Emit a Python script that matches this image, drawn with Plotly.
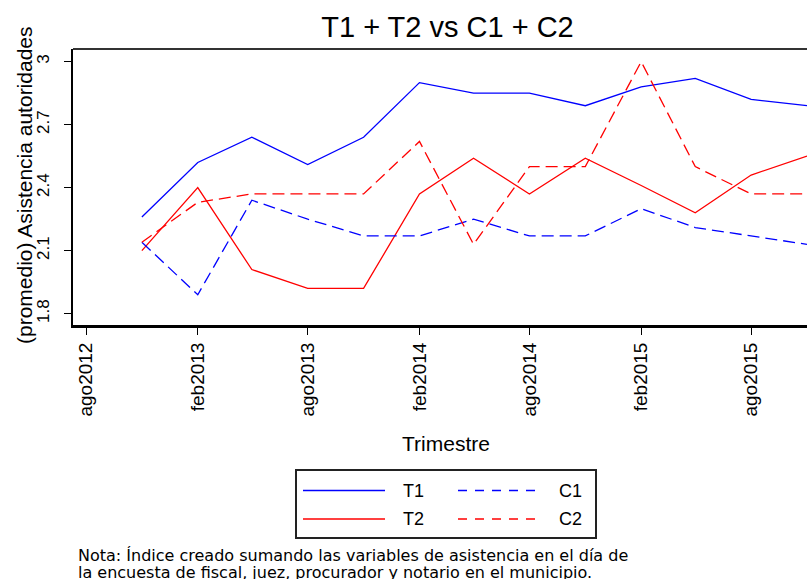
import plotly.graph_objects as go

# quarterly observations (first month of each quarter)
quarters = [
    "2012-11-01", "2013-02-01", "2013-05-01", "2013-08-01", "2013-11-01",
    "2014-02-01", "2014-05-01", "2014-08-01", "2014-11-01", "2015-02-01",
    "2015-05-01", "2015-08-01", "2015-11-01",
]
t1 = [2.26, 2.52, 2.64, 2.51, 2.64, 2.90, 2.85, 2.85, 2.79, 2.88, 2.92, 2.82, 2.79]
t2 = [2.10, 2.40, 2.01, 1.92, 1.92, 2.37, 2.54, 2.37, 2.54, 2.41, 2.28, 2.46, 2.55]
c1 = [2.14, 1.89, 2.34, 2.25, 2.17, 2.17, 2.25, 2.17, 2.17, 2.30, 2.21, 2.17, 2.13]
c2 = [2.14, 2.33, 2.37, 2.37, 2.37, 2.62, 2.13, 2.50, 2.50, 3.00, 2.50, 2.37, 2.37]

tick_dates = ["2012-08-01", "2013-02-01", "2013-08-01", "2014-02-01",
              "2014-08-01", "2015-02-01", "2015-08-01"]
tick_text = ["ago2012", "feb2013", "ago2013", "feb2014", "ago2014", "feb2015", "ago2015"]
y_ticks = [1.8, 2.1, 2.4, 2.7, 3.0]
y_text = ["1.8", "2.1", "2.4", "2.7", "3"]

BLUE = "#0000ff"
RED = "#ff0000"
FONT = "Liberation Sans, Arial, sans-serif"

# plot area in pixels; the graph runs off the right edge like the original
W, H = 807, 579
L, R, T, B = 73, 807, 49, 325


def px(x):
    return (x - L) / (R - L)


def py(y):
    return (B - y) / (B - T)


series = [
    ("T1", t1, BLUE, "solid"),
    ("T2", t2, RED, "solid"),
    ("C1", c1, BLUE, "12px,6px"),
    ("C2", c2, RED, "12px,6px"),
]

fig = go.Figure()
for name, vals, color, dash in series:
    fig.add_trace(go.Scatter(
        x=quarters, y=vals, mode="lines", name=name,
        line=dict(color=color, width=1.3, dash=dash),
    ))

fig.update_layout(
    width=W, height=H,
    margin=dict(l=L, r=W - R, t=T, b=H - B),
    paper_bgcolor="white", plot_bgcolor="white",
    showlegend=False,
    font=dict(family=FONT, color="black"),
    title=dict(
        text="T1 + T2 vs C1 + C2",
        x=447.5 / W, xanchor="center",
        y=1 - 27 / H, yanchor="middle",
        font=dict(size=29, family=FONT, color="black"),
    ),
    xaxis=dict(
        type="date",
        range=["2012-07-10 14:00", "2015-11-01"],
        tickvals=tick_dates, ticktext=tick_text,
        tickangle=-90, tickfont=dict(size=19),
        ticks="outside", ticklen=7, tickwidth=1.3, tickcolor="black",
        showline=True, linewidth=3, linecolor="black",
        showgrid=False, zeroline=False,
    ),
    yaxis=dict(
        range=[1.746, 3.06],
        tickvals=y_ticks, ticktext=y_text,
        tickangle=-90, tickfont=dict(size=17),
        ticks="outside", ticklen=7, tickwidth=1.3, tickcolor="black",
        ticklabelstandoff=8,
        showline=True, linewidth=1.5, linecolor="black",
        showgrid=False, zeroline=False,
    ),
)

# top frame line
fig.add_shape(type="line", xref="paper", yref="paper", x0=0, x1=1, y0=1, y1=1,
              line=dict(color="#333333", width=2))

# axis titles
fig.add_annotation(text="Trimestre", xref="paper", yref="paper",
                   x=px(446), y=py(443), showarrow=False,
                   xanchor="center", yanchor="middle", font=dict(size=21))
fig.add_annotation(text="(promedio) Asistencia autoridades", xref="paper", yref="paper",
                   x=px(24), y=py(185), showarrow=False, textangle=-90,
                   xanchor="center", yanchor="middle", font=dict(size=21))

# legend box, two columns
fig.add_shape(type="rect", xref="paper", yref="paper",
              x0=px(296), x1=px(596), y0=py(470), y1=py(538),
              line=dict(color="#222222", width=2), fillcolor="white")
legend_rows = [(490.5, ("T1", BLUE), ("C1", BLUE)), (519, ("T2", RED), ("C2", RED))]
for yy, (n1, col1), (n2, col2) in legend_rows:
    fig.add_shape(type="line", xref="paper", yref="paper",
                  x0=px(303), x1=px(385), y0=py(yy), y1=py(yy),
                  line=dict(color=col1, width=1.5))
    fig.add_shape(type="line", xref="paper", yref="paper",
                  x0=px(458), x1=px(540), y0=py(yy), y1=py(yy),
                  line=dict(color=col2, width=1.5, dash="9px,8px"))
    fig.add_annotation(text=n1, xref="paper", yref="paper", x=px(401), y=py(yy),
                       showarrow=False, xanchor="left", yanchor="middle",
                       font=dict(size=18))
    fig.add_annotation(text=n2, xref="paper", yref="paper", x=px(557), y=py(yy),
                       showarrow=False, xanchor="left", yanchor="middle",
                       font=dict(size=18))

# note under the legend
notes = [
    (555, "Nota: Índice creado sumando las variables de asistencia en el día de"),
    (572.5, "la encuesta de fiscal, juez, procurador y notario en el municipio."),
]
for yy, txt in notes:
    fig.add_annotation(text=txt, xref="paper", yref="paper", x=px(76), y=py(yy),
                       showarrow=False, xanchor="left", yanchor="middle",
                       font=dict(size=16, family="DejaVu Sans, Verdana, sans-serif"))

# drop the default page margin so the figure sits at the window's corner
fig.write_html("out.html", config={"displayModeBar": False},
               post_script="document.body.style.margin = '0';")
